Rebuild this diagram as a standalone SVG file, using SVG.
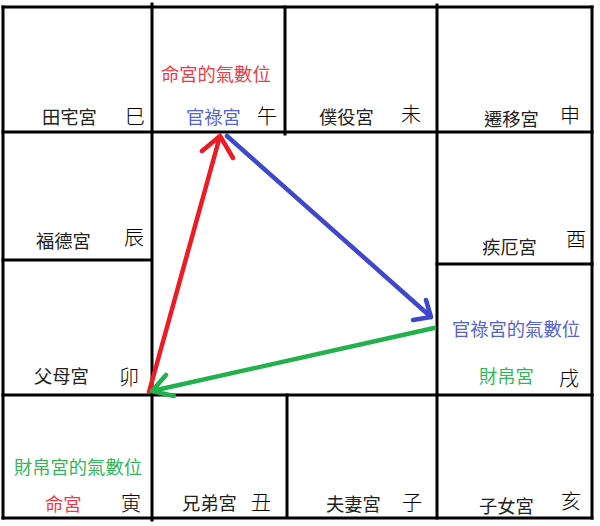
<svg xmlns="http://www.w3.org/2000/svg" width="600" height="526" viewBox="0 0 600 526">
<style>
.g{stroke:#000;stroke-width:3;fill:none;stroke-linecap:square}
text{font-family:"Noto Sans CJK TC","Noto Sans CJK SC",sans-serif;font-size:18.3px;fill:#222}
.b{font-size:20px;fill:#000;font-weight:300}
.r{fill:#f03a48}
.bl{fill:#5462d2}
.gr{fill:#33b65a}
.ar{fill:none;stroke-width:4.5;stroke-linecap:round;stroke-linejoin:round}
</style>
<rect width="600" height="526" fill="#fff"/>
<g id="grid">
<line class="g" x1="3" y1="7" x2="592" y2="7"/>
<line class="g" x1="3" y1="132" x2="592" y2="132"/>
<line class="g" x1="3" y1="260" x2="151" y2="260"/>
<line class="g" x1="437" y1="264" x2="592" y2="264"/>
<line class="g" x1="3" y1="395" x2="592" y2="395"/>
<line class="g" x1="3" y1="518" x2="592" y2="518"/>
<line class="g" x1="3" y1="7" x2="3" y2="518"/>
<line class="g" x1="152" y1="4" x2="152" y2="520"/>
<line class="g" x1="285" y1="7" x2="285" y2="134"/>
<line class="g" x1="287" y1="395" x2="287" y2="516"/>
<line class="g" x1="437" y1="5" x2="437" y2="518"/>
<line class="g" x1="592" y1="7" x2="592" y2="518"/>
</g>
<g id="si"><text x="42" y="124">田宅宮</text><text class="b" x="125" y="124">巳</text></g>
<g id="wu"><text class="r" x="161" y="81">命宮的氣數位</text><text class="bl" x="186" y="124">官祿宮</text><text class="b" x="257" y="124">午</text></g>
<g id="wei"><text x="319" y="124">僕役宮</text><text class="b" x="401" y="122">未</text></g>
<g id="shen"><text x="484" y="126">遷移宮</text><text class="b" x="560" y="123">申</text></g>
<g id="chen"><text x="36" y="248">福德宮</text><text class="b" x="124" y="245">辰</text></g>
<g id="you"><text x="482" y="254">疾厄宮</text><text class="b" x="566" y="247">酉</text></g>
<g id="mao"><text x="34" y="383">父母宮</text><text class="b" x="119" y="385">卯</text></g>
<g id="xu"><text class="bl" x="452" y="336">官祿宮的氣數位</text><text class="gr" x="479" y="383">財帛宮</text><text class="b" x="559" y="386">戌</text></g>
<g id="yin"><text class="gr" x="14" y="474">財帛宮的氣數位</text><text class="r" x="45" y="511">命宮</text><text class="b" x="121" y="511">寅</text></g>
<g id="chou"><text x="182" y="510">兄弟宮</text><text class="b" x="251" y="510">丑</text></g>
<g id="zi"><text x="326" y="511">夫妻宮</text><text class="b" x="402" y="510">子</text></g>
<g id="hai"><text x="479" y="513">子女宮</text><text class="b" x="561" y="509">亥</text></g>
<g id="connectors">
<path class="ar" stroke="#ed1c24" d="M149 392 L220 136 M202 151 L220 136 L233 158"/>
<path class="ar" stroke="#3f48cc" d="M227 136 L431 317 M426 300 L431 317 L413 320"/>
<path class="ar" stroke="#22b14c" d="M434 328 L152 391 M166 375 L152 391 L174 396"/>
</g>
</svg>
